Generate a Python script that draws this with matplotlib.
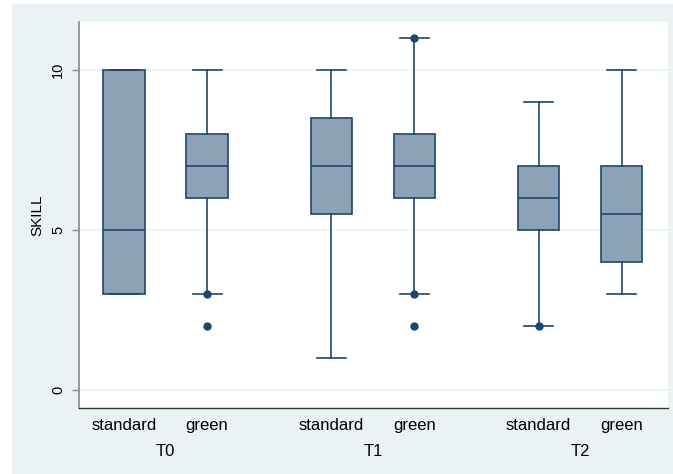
import matplotlib
matplotlib.use("Agg")
import matplotlib.pyplot as plt
from matplotlib.patches import Rectangle

plt.rcParams['font.family'] = ['Liberation Sans', 'DejaVu Sans']

# box statistics
groups = ["T0", "T1", "T2"]
types = ["standard", "green"]
q1 = [3, 6, 5.5, 6, 5, 4]
med = [5, 7, 7, 7, 6, 5.5]
q3 = [10, 8, 8.5, 8, 7, 7]
whislo = [3, 3, 1, 3, 2, 3]
whishi = [10, 10, 10, 11, 9, 10]
fliers = [[], [3, 2], [], [11, 3, 2], [2], []]
positions = [0, 1, 2.5, 3.5, 5, 6]
group_pos = [0.5, 3, 5.5]

NAVY = "#1a476f"
FILL = "#8da2b6"
BG = "#eaf2f3"

fig = plt.figure(figsize=(6.73, 4.74), dpi=100)
fig.patches.append(Rectangle((12 / 673, 0), 1, 470 / 474, transform=fig.transFigure,
                             facecolor=BG, edgecolor="none", zorder=-10))
ax = fig.add_axes([79 / 673, 66 / 474, 589 / 673, 386 / 474])
ax.set_facecolor("white")

stats = []
for i in range(len(med)):
    stats.append(dict(med=med[i], q1=q1[i], q3=q3[i], whislo=whislo[i],
                      whishi=whishi[i], fliers=fliers[i]))

ax.bxp(stats, positions=positions, widths=0.5, patch_artist=True,
       boxprops=dict(facecolor=FILL, edgecolor=NAVY, linewidth=1.2),
       medianprops=dict(color=NAVY, linewidth=1.2),
       whiskerprops=dict(color=NAVY, linewidth=1.2),
       capprops=dict(color=NAVY, linewidth=1.2),
       capwidths=0.35,
       flierprops=dict(marker="o", markerfacecolor=NAVY, markeredgecolor=NAVY,
                       markersize=5, linestyle="none"),
       zorder=3)

ax.set_xlim(-0.545, 6.56)
ax.set_ylim(-0.5625, 11.5)

ax.set_yticks([0, 5, 10])
ax.set_yticklabels(["0", "5", "10"], rotation=90, va="center", fontsize=10.5)
ax.tick_params(axis="y", length=5, width=1, color="#888888", pad=5)
ax.grid(axis="y", color=BG, linewidth=1.2, zorder=0)
ax.set_axisbelow(True)
ax.set_ylabel("SKILL", fontsize=11, labelpad=5)

ax.set_xticks(positions)
ax.set_xticklabels(types * len(groups), fontsize=12)
ax.tick_params(axis="x", length=0, pad=7)

for g, p in zip(groups, group_pos):
    ax.annotate(g, xy=(p, 0), xycoords=("data", "axes fraction"),
                xytext=(0, -31.5), textcoords="offset points",
                ha="center", va="center", fontsize=12)

for s in ["top", "right"]:
    ax.spines[s].set_visible(False)
ax.spines["left"].set_color("#888888")
ax.spines["left"].set_linewidth(1.2)
ax.spines["bottom"].set_color("#333333")
ax.spines["bottom"].set_linewidth(1.0)

fig.savefig("out.png", dpi=100)
